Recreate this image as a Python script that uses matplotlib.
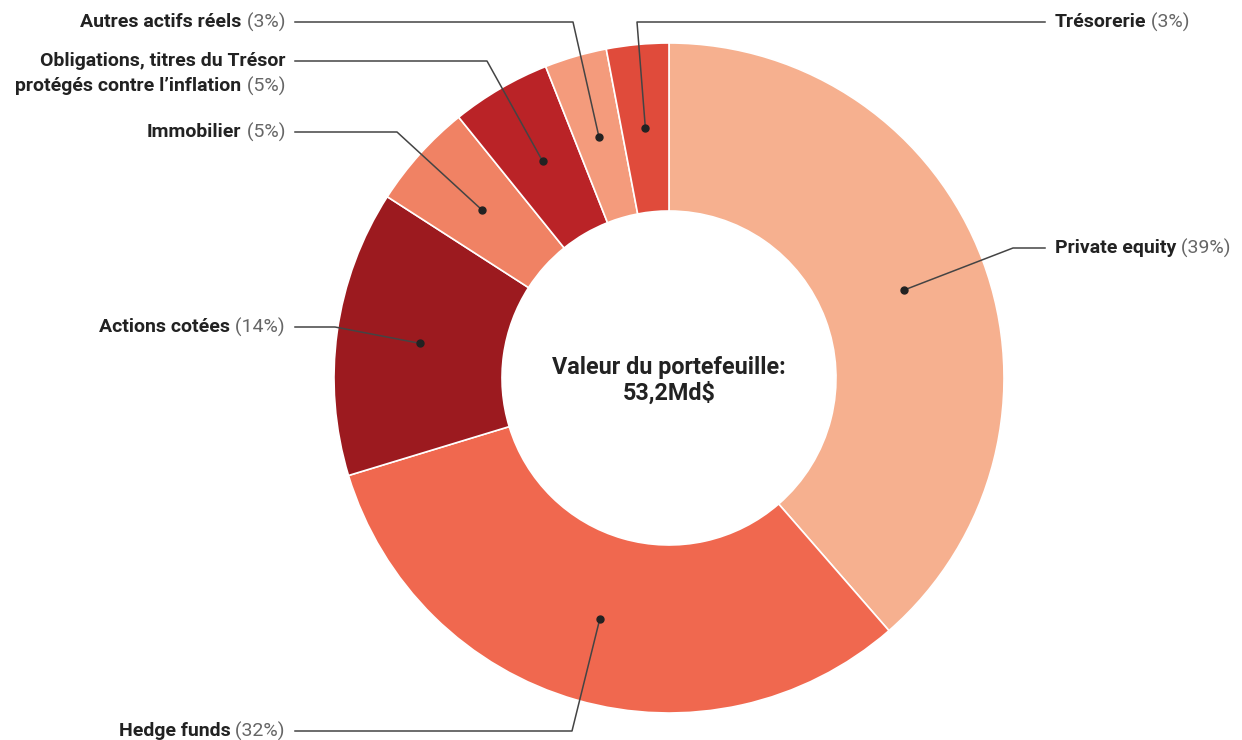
import numpy as np
import matplotlib
matplotlib.use("Agg")
import matplotlib.pyplot as plt

# portfolio split, clockwise from 12 o'clock
categories = ["Private equity", "Hedge funds", "Actions cotées", "Immobilier",
              "Obligations, titres du Trésor\nprotégés contre l’inflation",
              "Autres actifs réels", "Trésorerie"]
shares = [38.6, 31.7, 13.8, 5.1, 4.8, 3.0, 3.0]
colors = ["#F6B08F", "#F0684F", "#9C1A1F", "#F08264", "#BA2327", "#F49B7C", "#E04B3B"]
center_text = "Valeur du portefeuille:\n53,2Md$"

# layout (pixels from top-left of the image)
W, H = 1242, 740
cx, cy = 669, 378
r_out, r_in = 335, 167
# elbow point, end of horizontal line, side of the label
leaders = [
    ((1013, 248), 1045, "right"),
    ((572, 731), 295, "left"),
    ((335, 327), 295, "left"),
    ((397, 132), 295, "left"),
    ((487, 61), 295, "left"),
    ((573, 22), 295, "left"),
    ((637, 22), 1045, "right"),
]

plt.rcParams['font.family'] = ['Roboto', 'DejaVu Sans']

fig = plt.figure(figsize=(W / 100, H / 100), dpi=100)
ax = fig.add_axes([0, 0, 1, 1])

wedges, _ = ax.pie(shares, colors=colors, startangle=90, counterclock=False,
                   radius=r_out, center=(cx, H - cy),
                   wedgeprops=dict(width=r_out - r_in, edgecolor="white", linewidth=1.2))
ax.set_xlim(0, W)
ax.set_ylim(0, H)
ax.set_aspect("equal")
ax.axis("off")

ax.text(cx, H - cy - 2, center_text, ha="center", va="center", fontsize=16.8,
        fontweight="bold", color="#222222", linespacing=1.15)

renderer = fig.canvas.get_renderer()
total = sum(shares)
r_mid = (r_out + r_in) / 2
for w, name, val, (elbow, x_end, side) in zip(wedges, categories, shares, leaders):
    ang = np.deg2rad((w.theta1 + w.theta2) / 2)
    dx = cx + r_mid * np.cos(ang)
    dy = (H - cy) + r_mid * np.sin(ang)
    ex, ey = elbow[0], H - elbow[1]
    ax.plot([dx, ex, x_end], [dy, ey, ey], color="#444444", lw=1.1, zorder=3)
    ax.plot(dx, dy, "o", color="#222222", ms=5, zorder=4)

    pct = " (%d%%)" % round(val / total * 100)
    lines = name.split("\n")
    fs = 14
    if side == "left":
        xr = x_end - 10
        for i, line in enumerate(lines):
            y = ey - i * 25
            if i == len(lines) - 1:
                t = ax.text(xr, y, pct, ha="right", va="center", fontsize=fs, color="#666666")
                wpx = t.get_window_extent(renderer).width
                ax.text(xr - wpx, y, line, ha="right", va="center", fontsize=fs,
                        fontweight="bold", color="#222222")
            else:
                ax.text(xr, y, line, ha="right", va="center", fontsize=fs,
                        fontweight="bold", color="#222222")
    else:
        xl = x_end + 10
        t = ax.text(xl, ey, lines[0], ha="left", va="center", fontsize=fs,
                    fontweight="bold", color="#222222")
        wpx = t.get_window_extent(renderer).width
        ax.text(xl + wpx, ey, pct, ha="left", va="center", fontsize=fs, color="#666666")

fig.savefig("out.png", dpi=100, facecolor="white")
